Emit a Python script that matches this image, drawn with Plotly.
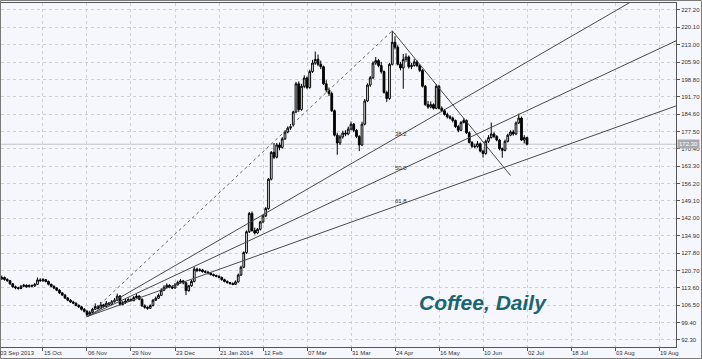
import plotly.graph_objects as go

# ---------------- data ----------------
opens = [
    116.5,117.2,117.8,117.0,116.5,115.2,114.0,113.6,113.3,114.2,
    114.6,114.0,114.5,114.3,115.0,116.8,116.5,116.9,116.2,115.0,
    114.2,113.5,112.6,111.5,110.6,109.4,108.5,107.8,107.3,106.4,
    105.8,104.8,104.0,102.6,103.5,104.8,105.9,105.2,106.6,106.0,
    107.3,106.8,107.9,108.5,110.2,106.8,107.5,108.2,108.8,108.4,
    109.6,110.2,108.9,106.2,105.6,105.2,106.3,108.5,109.3,110.5,
    112.6,113.8,114.6,113.9,113.5,114.8,115.8,116.4,115.6,112.4,
    114.4,116.2,121.2,120.6,120.9,120.2,120.0,119.6,119.0,118.6,
    118.3,117.8,116.9,116.2,115.7,115.3,115.0,116.0,118.8,122.0,
    128.0,136.5,144.0,137.0,136.0,137.5,140.5,143.0,146.0,158.0,
    169.0,167.0,172.0,171.0,174.5,177.3,178.9,180.2,185.5,197.0,
    186.5,196.0,199.4,195.5,202.0,205.5,207.0,205.0,204.0,197.0,
    194.5,193.0,186.0,176.0,172.8,175.3,176.9,176.5,178.5,180.5,
    178.0,175.5,172.0,180.5,190.0,196.5,199.5,205.5,206.5,204.5,
    202.0,193.5,191.0,205.0,214.0,212.0,205.0,203.5,207.0,208.0,
    204.0,204.5,206.0,204.5,202.5,196.0,188.5,187.5,188.5,187.0,
    196.0,187.0,186.0,184.5,183.5,183.0,182.0,179.5,178.0,181.2,
    182.0,177.0,173.0,171.5,171.3,172.5,169.5,168.5,173.5,175.0,
    176.5,175.5,174.0,170.5,169.8,173.5,176.0,177.3,176.5,181.0,
    183.0,174.0,175.0,
]
highs = [
    118.0,118.6,118.2,117.5,116.8,115.5,114.5,114.0,114.8,115.2,
    115.0,115.0,115.0,115.6,117.8,117.5,117.6,117.2,116.5,115.3,
    114.6,113.8,113.0,111.9,111.0,109.8,109.0,108.3,107.6,106.8,
    106.2,105.3,104.4,104.2,105.4,107.2,106.5,107.8,107.0,108.2,
    107.8,108.6,109.4,111.2,110.6,108.2,109.0,109.6,109.2,110.2,
    111.0,110.5,109.2,106.8,106.0,106.8,109.0,110.0,111.2,113.4,
    114.6,115.4,115.0,114.6,115.6,116.5,117.2,116.8,116.0,114.8,
    116.8,122.2,121.8,121.6,121.3,120.8,120.4,120.0,119.4,119.0,
    118.6,118.2,117.3,116.6,116.0,115.8,116.6,119.4,122.6,128.5,
    137.0,144.6,144.8,138.2,138.0,141.0,143.6,146.6,158.5,169.5,
    172.8,172.8,173.0,175.2,178.0,179.6,180.6,186.0,197.8,198.0,
    197.0,200.5,200.0,202.8,206.8,210.2,209.0,206.5,204.5,198.5,
    195.5,193.8,186.5,177.0,176.2,177.8,178.0,179.5,181.6,181.0,
    178.5,176.0,181.5,190.8,197.2,200.2,206.2,208.0,207.2,206.0,
    202.5,194.2,205.6,218.7,216.5,212.8,206.0,209.2,209.5,208.6,
    205.5,207.2,206.6,205.0,203.0,196.5,190.0,189.8,189.0,196.8,
    196.6,187.8,186.6,185.2,184.2,183.6,182.4,180.2,181.8,183.0,
    182.4,177.5,173.6,172.5,173.6,173.0,170.0,174.2,176.0,181.2,
    177.2,176.0,174.5,171.0,174.2,176.6,178.0,178.2,181.6,184.8,
    183.6,176.0,175.4,
]
lows = [
    116.0,116.8,116.5,116.0,114.8,113.6,113.0,112.8,113.0,113.8,
    113.6,113.7,113.8,114.0,114.8,116.0,116.0,115.8,114.6,113.8,
    113.0,112.2,111.0,110.2,109.0,108.1,107.4,106.9,106.0,105.3,
    104.3,103.5,101.8,102.2,103.2,104.5,104.6,105.0,105.5,105.8,
    106.2,106.5,107.5,108.2,106.2,106.4,107.0,107.8,107.9,108.0,
    109.2,108.5,105.8,105.0,104.6,104.9,106.0,108.2,109.0,110.2,
    112.2,113.4,113.4,113.0,113.2,114.5,115.4,115.0,110.6,112.0,
    114.0,115.8,120.0,120.2,119.8,119.5,119.0,118.6,118.2,117.9,
    117.4,116.5,115.8,115.3,114.9,114.6,114.8,115.7,118.4,121.6,
    127.5,136.0,136.5,135.4,135.5,137.0,140.0,142.5,145.5,157.5,
    166.2,166.5,169.8,170.5,174.0,176.8,178.2,179.5,185.0,185.5,
    186.0,195.2,194.8,195.0,201.5,204.8,204.2,203.0,196.5,193.5,
    192.0,185.5,175.5,168.0,172.0,174.6,175.6,176.0,178.0,177.2,
    174.8,169.5,171.5,180.0,189.5,195.8,199.0,204.8,203.8,201.2,
    193.0,189.5,190.5,204.5,211.0,204.5,202.5,195.0,206.0,203.2,
    203.0,204.0,203.8,201.8,195.5,188.0,186.8,187.0,186.5,186.6,
    186.5,185.4,184.0,182.8,182.4,181.2,179.0,177.2,177.6,180.8,
    176.5,172.6,170.8,170.6,170.9,169.0,166.8,168.0,172.8,174.6,
    174.8,173.5,169.8,166.8,169.4,173.0,175.6,175.8,176.0,180.6,
    173.6,172.6,171.8,
]
closes = [
    117.2,117.8,117.0,116.5,115.2,114.0,113.6,113.3,114.2,114.6,
    114.0,114.5,114.3,115.0,116.8,116.5,116.9,116.2,115.0,114.2,
    113.5,112.6,111.5,110.6,109.4,108.5,107.8,107.3,106.4,105.8,
    104.8,104.0,102.6,103.5,104.8,105.9,105.2,106.6,106.0,107.3,
    106.8,107.9,108.5,110.2,106.8,107.5,108.2,108.8,108.4,109.6,
    110.2,108.9,106.2,105.6,105.2,106.3,108.5,109.3,110.5,112.6,
    113.8,114.6,113.9,113.5,114.8,115.8,116.4,115.6,112.4,114.4,
    116.2,121.2,120.6,120.9,120.2,120.0,119.6,119.0,118.6,118.3,
    117.8,116.9,116.2,115.7,115.3,115.0,116.0,118.8,122.0,128.0,
    136.5,144.0,137.0,136.0,137.5,140.5,143.0,146.0,158.0,169.0,
    167.0,172.0,171.0,174.5,177.3,178.9,179.5,185.5,197.0,186.5,
    196.0,199.4,195.5,202.0,205.5,207.0,205.0,204.0,197.0,194.5,
    193.0,186.0,176.0,172.8,175.3,176.9,176.5,178.5,180.5,178.0,
    175.5,172.0,180.5,190.0,196.5,199.5,205.5,206.5,204.5,202.0,
    193.5,191.0,205.0,214.0,212.0,205.0,203.5,207.0,208.0,204.0,
    204.5,206.0,204.5,202.5,196.0,188.5,187.5,188.5,187.0,196.0,
    187.0,186.0,184.5,183.5,183.0,182.0,179.5,178.0,181.2,182.0,
    177.0,173.0,171.5,171.3,172.5,169.5,168.5,173.5,175.0,176.5,
    175.5,174.0,170.5,169.8,173.5,176.0,177.3,176.5,181.0,183.0,
    174.0,175.0,172.3,
]

first_date_label = "03 Sep 2013"
x_tick_idx = [16, 32, 48, 64, 80, 96, 112, 128, 144, 160, 176, 192, 208, 224, 240]
x_tick_text = ["15 Oct", "06 Nov", "29 Nov", "23 Dec", "21 Jan 2014", "12 Feb",
               "07 Mar", "31 Mar", "24 Apr", "16 May", "10 Jun", "02 Jul",
               "18 Jul", "03 Aug", "19 Aug"]
y_tick_vals = [92.3, 99.4, 106.5, 113.6, 120.7, 127.8, 134.9, 142.0, 149.1, 156.2,
               163.3, 170.4, 177.5, 184.6, 191.7, 198.8, 205.9, 213.0, 220.1, 227.2]
y_tick_text = ["92.30", "99.40", "106.50", "113.60", "120.70", "127.80", "134.90",
               "142.00", "149.10", "156.20", "163.30", "170.40", "177.50", "184.60",
               "191.70", "198.80", "205.90", "213.00", "220.10", "227.20"]

# Fibonacci fan anchors and levels
fib_low_idx, fib_low = 32, 101.8
fib_high_idx, fib_high = 143, 218.7
fib_levels = [38.2, 50.0, 61.8]
fib_labels = ["38.2", "50.0", "61.8"]
# descending trend line anchors
trend_start = (143, 218.7)
trend_end = (186, 159.5)

title_text = "Coffee, Daily"

# ---------------- figure ----------------
W, H = 702, 359
ML, MR, MT, MB = 1, 26, 3, 12
PW, PH = W - ML - MR, H - MT - MB

idx = list(range(len(closes)))
bg = "#f6f7fc"
axis_col = "#555555"
grid_col = "#cdced6"
txt_col = "#333333"
tick_font = dict(family="Liberation Sans, Arial, sans-serif", size=6, color=txt_col)

fig = go.Figure(go.Candlestick(
    x=idx, open=opens, high=highs, low=lows, close=closes,
    increasing=dict(line=dict(color="#000000", width=1), fillcolor="#ffffff"),
    decreasing=dict(line=dict(color="#000000", width=1), fillcolor="#000000"),
    whiskerwidth=0, hoverinfo="skip", showlegend=False,
))

shapes = []
# current price line
shapes.append(dict(type="line", xref="paper", x0=0, x1=1, yref="y",
                   y0=closes[-1], y1=closes[-1],
                   line=dict(color="#c4c4c8", width=1), layer="below"))
# dotted line from low to high
shapes.append(dict(type="line", xref="x", yref="y", x0=fib_low_idx, y0=fib_low,
                   x1=fib_high_idx, y1=fib_high,
                   line=dict(color="#666666", width=1, dash="dot")))
# fan rays
far_x = 400
for lv in fib_levels:
    level_price = fib_high - lv / 100.0 * (fib_high - fib_low)
    slope = (level_price - fib_low) / (fib_high_idx - fib_low_idx)
    shapes.append(dict(type="line", xref="x", yref="y", x0=fib_low_idx, y0=fib_low,
                       x1=far_x, y1=fib_low + slope * (far_x - fib_low_idx),
                       line=dict(color="#4a4a4a", width=1)))
# trend line
shapes.append(dict(type="line", xref="x", yref="y", x0=trend_start[0], y0=trend_start[1],
                   x1=trend_end[0], y1=trend_end[1],
                   line=dict(color="#4a4a4a", width=1)))
# outer frame of the whole picture
shapes.append(dict(type="rect", xref="paper", yref="paper",
                   x0=(0.5 - ML) / PW, x1=(W - 0.5 - ML) / PW,
                   y0=(H - MB - (H - 0.5)) / PH, y1=(H - MB - 0.5) / PH,
                   line=dict(color="#7a7a7a", width=1)))

annotations = []
for lv, lab in zip(fib_levels, fib_labels):
    level_price = fib_high - lv / 100.0 * (fib_high - fib_low)
    annotations.append(dict(x=fib_high_idx, y=level_price, xref="x", yref="y",
                            text=lab, showarrow=False, xanchor="left", yanchor="bottom",
                            xshift=1, yshift=1, font=tick_font))
# current price box
annotations.append(dict(x=1, xref="paper", y=closes[-1], yref="y", text="%.2f" % closes[-1],
                        showarrow=False, xanchor="left", yanchor="middle", xshift=1,
                        bgcolor="#a9a9ad", borderpad=1,
                        font=dict(family="Liberation Sans, Arial, sans-serif", size=6,
                                  color="#ffffff")))
# first date label at the left edge
annotations.append(dict(x=0, xref="paper", y=0, yref="paper", text=first_date_label,
                        showarrow=False, xanchor="left", yanchor="top", xshift=-3, yshift=-1,
                        font=tick_font))
# title
annotations.append(dict(x=(417 - ML) / PW, xref="paper", y=(H - MB - 302) / PH, yref="paper",
                        text="<b><i>" + title_text + "</i></b>", showarrow=False,
                        xanchor="left", yanchor="middle",
                        font=dict(family="Liberation Sans, Arial, sans-serif", size=21,
                                  color="#1b6470")))

fig.update_layout(
    width=W, height=H, margin=dict(l=ML, r=MR, t=MT, b=MB),
    paper_bgcolor=bg, plot_bgcolor=bg,
    shapes=shapes, annotations=annotations,
    boxgap=0.1,
    xaxis=dict(range=[0.73, 246.18], tickmode="array", tickvals=x_tick_idx,
               ticktext=x_tick_text, ticklabelposition="outside right",
               ticks="outside", ticklen=3, tickcolor=axis_col, tickfont=tick_font,
               showgrid=True, gridcolor=grid_col, griddash="dot", gridwidth=1,
               showline=True, linecolor=axis_col, linewidth=1, mirror=True,
               zeroline=False, rangeslider=dict(visible=False), fixedrange=True),
    yaxis=dict(range=[89.37, 230.06], side="right", tickmode="array",
               tickvals=y_tick_vals, ticktext=y_tick_text,
               ticks="outside", ticklen=3, tickcolor=axis_col, tickfont=tick_font,
               showgrid=True, gridcolor=grid_col, griddash="dot", gridwidth=1,
               showline=True, linecolor=axis_col, linewidth=1, mirror=True,
               zeroline=False, fixedrange=True),
    hovermode=False,
)

fig.write_html("out.html")
